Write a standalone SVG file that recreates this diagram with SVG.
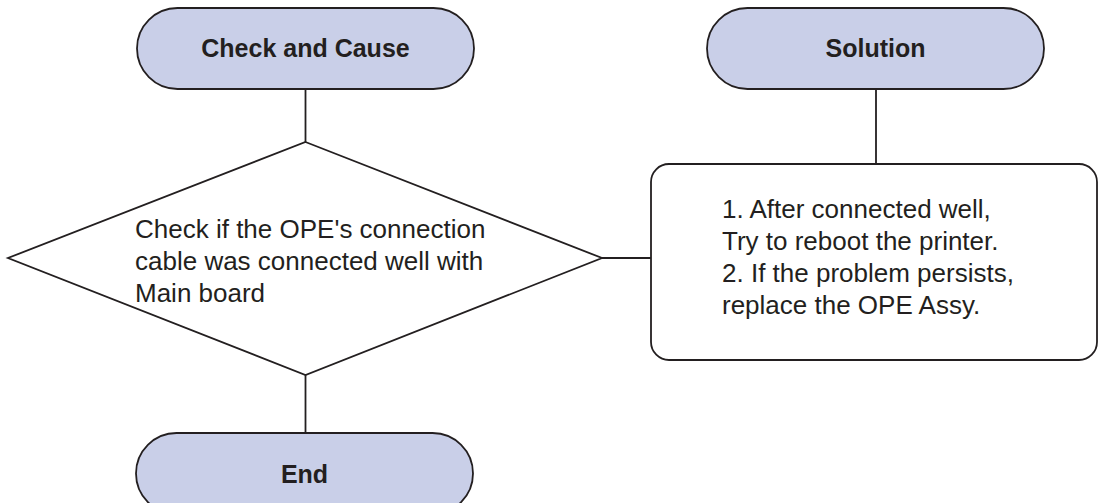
<svg xmlns="http://www.w3.org/2000/svg" width="1099" height="503" viewBox="0 0 1099 503">
<style>
.term{fill:#c9cfe8;stroke:#231f20;stroke-width:1.8}
.box{fill:#ffffff;stroke:#231f20;stroke-width:1.8}
.conn{stroke:#231f20;stroke-width:1.8;fill:none}
.bt{font-family:"Liberation Sans",Arial,sans-serif;font-weight:bold;font-size:25px;fill:#231f20;text-anchor:middle}
.rt{font-family:"Liberation Sans",Arial,sans-serif;font-size:26px;fill:#231f20}
</style>
<rect width="1099" height="503" fill="#ffffff"/>
<g id="connectors">
<line class="conn" x1="305.5" y1="89" x2="305.5" y2="142"/>
<line class="conn" x1="305.5" y1="375" x2="305.5" y2="433"/>
<line class="conn" x1="602" y1="258" x2="651" y2="258"/>
<line class="conn" x1="876" y1="89" x2="876" y2="164"/>
</g>
<g id="check-and-cause">
<rect class="term" x="137" y="8" width="337" height="81" rx="40.5"/>
<text class="bt" x="305.5" y="57">Check and Cause</text>
</g>
<g id="solution">
<rect class="term" x="707" y="8" width="337" height="81" rx="40.5"/>
<text class="bt" x="875.5" y="57">Solution</text>
</g>
<g id="decision">
<polygon class="box" points="305.5,142 602,258 305.5,375 8,258"/>
<text class="rt" x="135" y="238">Check if the OPE's connection</text>
<text class="rt" x="135" y="270">cable was connected well with</text>
<text class="rt" x="135" y="302">Main board</text>
</g>
<g id="solution-box">
<rect class="box" x="651" y="164" width="446" height="196" rx="18"/>
<text class="rt" x="722" y="218">1. After connected well,</text>
<text class="rt" x="722" y="250">Try to reboot the printer.</text>
<text class="rt" x="722" y="282">2. If the problem persists,</text>
<text class="rt" x="722" y="314">replace the OPE Assy.</text>
</g>
<g id="end">
<rect class="term" x="136" y="433" width="337" height="81" rx="40.5"/>
<text class="bt" x="304.5" y="483">End</text>
</g>
</svg>
